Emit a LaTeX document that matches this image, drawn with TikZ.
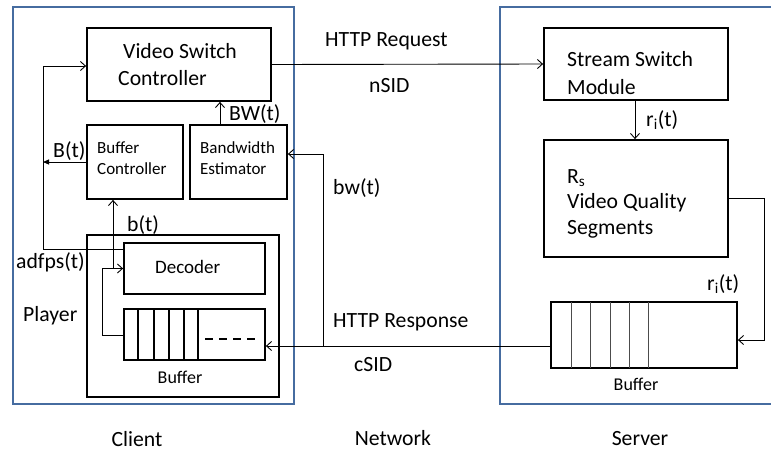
\documentclass[tikz,border=0pt]{standalone}
\usepackage{fontspec}
\setmainfont{Carlito}
\usetikzlibrary{arrows.meta}
\definecolor{frameblue}{RGB}{70,108,160}
\tikzset{
  frame/.style={draw=frameblue, line width=2.3pt},
  box/.style={draw, line width=1.8pt, inner sep=0pt},
  conn/.style={line width=0.9pt},
  oarrow/.style={conn, -{Straight Barb[length=5pt,width=9pt]}},
  farrow/.style={conn, -{Triangle[length=6pt,width=5pt]}},
  txt/.style={anchor=base west, inner sep=0pt, font=\fontsize{21.7}{26}\selectfont},
  ctxt/.style={anchor=base, inner sep=0pt, font=\fontsize{21.7}{26}\selectfont},
  smalltxt/.style={anchor=base west, inner sep=0pt, font=\fontsize{17}{20}\selectfont},
  buftxt/.style={anchor=base, inner sep=0pt, font=\fontsize{18}{21}\selectfont},
}
\begin{document}
\begin{tikzpicture}[x=1pt,y=-1pt]
\clip (0,0) rectangle (771,451);
\fill[white] (0,0) rectangle (771,451);

% frames
\draw[frame] (13,7) rectangle (294,404);
\draw[frame] (500,7) rectangle (800,404);

% client boxes
\node[box, minimum width=184pt, minimum height=73pt] (vsc) at (179,64.5) {};
\node[box, minimum width=96pt, minimum height=74pt] (bc) at (135,162) {};
\node[box, minimum width=97pt, minimum height=74pt] (be) at (238.5,162) {};
\node[box, minimum width=192pt, minimum height=162pt] (player) at (183,316) {};
\node[box, minimum width=141pt, minimum height=51pt] (dec) at (194.5,268.5) {};
\node[box, minimum width=141pt, minimum height=51pt] (cbuf) at (194.5,334.5) {};
\foreach \x in {138,154,169,184,198} \draw[line width=1.8pt] (\x,309) -- (\x,360);
\draw[line width=1.2pt, dash pattern=on 8pt off 6pt] (205,339) -- (258,339);

% server boxes
\node[box, minimum width=184pt, minimum height=72pt] (ssm) at (636,64) {};
\node[box, minimum width=184pt, minimum height=117pt] (vqs) at (636,198.5) {};
\node[box, minimum width=186pt, minimum height=66pt] (sbuf) at (644,335) {};
\foreach \x in {571,590,610,629,648} \draw[line width=0.8pt, black!70] (\x,302) -- (\x,368);

% texts in boxes
\node[txt] (t1) at (123,58) {Video Switch};
\node[txt] (t2) at (118,85) {Controller};
\node[smalltxt] (t3) at (97,153) {Buffer};
\node[smalltxt] (t4) at (97,174) {Controller};
\node[smalltxt] (t5) at (200,153) {Bandwidth};
\node[smalltxt] (t6) at (200,174) {Estimator};
\node[anchor=base west, inner sep=0pt, font=\fontsize{19}{23}\selectfont] (t7) at (155,273) {Decoder};
\node[buftxt] (t8) at (180,383) {Buffer};
\node[txt] (t9) at (567,66) {Stream Switch};
\node[txt] (t10) at (567,94) {Module};
\node[txt] (t11) at (567,183) {R\textsubscript{s}};
\node[txt] (t12) at (567,208) {Video Quality};
\node[txt] (t13) at (567,234) {Segments};
\node[buftxt] (t14) at (636,390) {Buffer};

% connectors
\coordinate (bwtop) at (323,154);
\coordinate (bwbot) at (323,346);
\draw[oarrow] (vsc.east) -- (ssm.west);
\draw[oarrow] ([xshift=-1pt]ssm.south) -- ([xshift=-1pt]vqs.north);
\draw[oarrow] ([yshift=0.5pt]vqs.east) -| (764,340) -- ([yshift=-5pt]sbuf.east);
\draw[oarrow] ([yshift=-11pt]sbuf.west) -- ([yshift=-11.5pt]cbuf.east);
\draw[oarrow] (bwbot) -- (bwtop) -- (bwtop -| be.east);
\draw[oarrow] ([xshift=-18.5pt]be.north) -- ([xshift=-18.5pt]be.north |- vsc.south);
\coordinate (lft) at (43,162);
\draw[farrow] (bc.west) -- (lft);
\draw[oarrow] ([yshift=19.5pt]dec.west) -- (43,249) -- (43,66) -- ([yshift=-1.5pt]vsc.west);
\coordinate (junc) at (113,268.5);
\draw[oarrow] ([yshift=-0.5pt]cbuf.west) -- (102,335) -- (102,268.5) -- (dec.west);
\draw[oarrow] (junc) -- (junc |- bc.south);

% labels
\node[txt] (l1) at (325,46) {HTTP Request};
\node[txt] (l2) at (369,92) {nSID};
\node[txt] (l3) at (646,126) {r\textsubscript{i}(t)};
\node[txt] (l4) at (707,290) {r\textsubscript{i}(t)};
\node[txt] (l5) at (333,194) {bw(t)};
\node[txt] (l6) at (333,327) {HTTP Response};
\node[txt] (l7) at (354,371) {cSID};
\node[txt] (l8) at (229,120) {BW(t)};
\node[txt] (l9) at (53,157) {B(t)};
\node[txt] (l10) at (127,231) {b(t)};
\node[txt] (l11) at (16,268) {adfps(t)};
\node[txt] (l12) at (23,321) {Player};
\node[ctxt] (c1) at (137,446) {Client};
\node[ctxt] (c2) at (393,445) {Network};
\node[ctxt] (c3) at (640,445) {Server};
\end{tikzpicture}
\end{document}
